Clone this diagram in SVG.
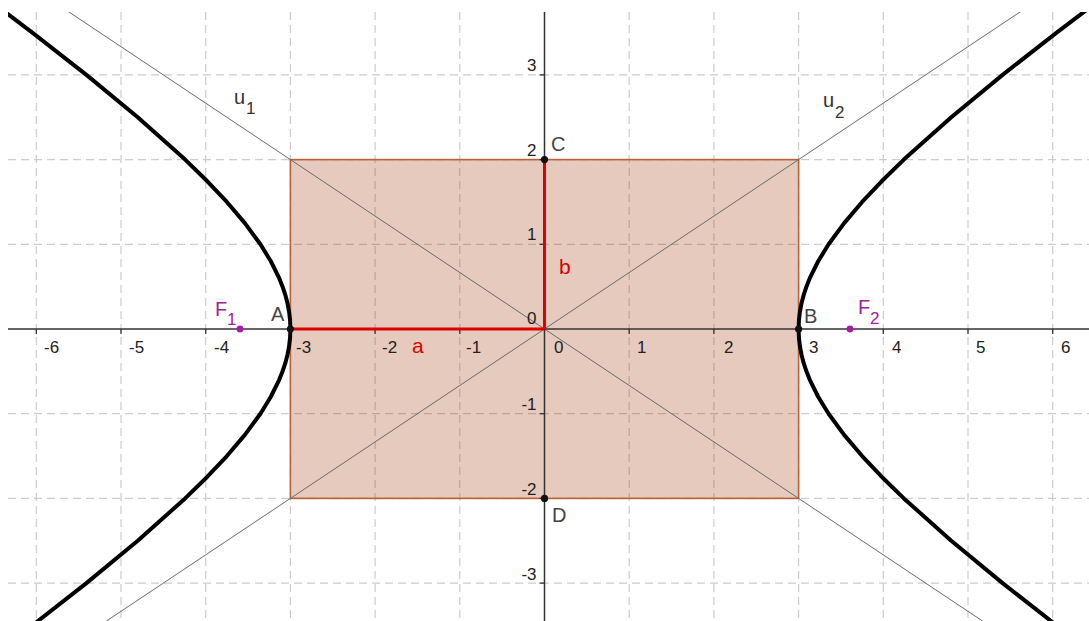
<svg xmlns="http://www.w3.org/2000/svg" width="1089" height="621" viewBox="0 0 1089 621">
<style>
.grid{stroke:#cccccc;stroke-width:1.2;stroke-dasharray:8,5;fill:none}
.axis{stroke:#333;stroke-width:1.5;fill:none}
.tick{stroke:#333;stroke-width:1.3}
.tl{font-family:"Liberation Sans",Arial,sans-serif;font-size:17px;fill:#222}
.tly{font-family:"Liberation Sans",Arial,sans-serif;font-size:17px;fill:#222;text-anchor:end}
.pl{font-family:"Liberation Sans",Arial,sans-serif;font-size:20px;fill:#444}
.fl{font-family:"Liberation Sans",Arial,sans-serif;font-size:20px;fill:#a020a0}
.fs{font-family:"Liberation Sans",Arial,sans-serif;font-size:17px;fill:#a020a0}
.ul{font-family:"Liberation Sans",Arial,sans-serif;font-size:20px;fill:#333}
.us{font-family:"Liberation Sans",Arial,sans-serif;font-size:17px;fill:#333}
.rl{font-family:"Liberation Sans",Arial,sans-serif;font-size:21px;fill:#dd0000}
.asym{stroke:#6a6a6a;stroke-width:1;fill:none}
.hyp{stroke:#000;stroke-width:4;fill:none;stroke-linejoin:round;stroke-linecap:round}
.seg{stroke:#dd0000;stroke-width:3}
.pt{fill:#111}
.fpt{fill:#a020a0}
</style>
<defs>
<clipPath id="view"><rect x="8" y="12" width="1081" height="609"/></clipPath>
</defs>
<rect x="0" y="0" width="1089" height="621" fill="#fff"/>
<g clip-path="url(#view)">
<g id="grid">
<line class="grid" x1="36.3" y1="12" x2="36.3" y2="621"/>
<line class="grid" x1="121" y1="12" x2="121" y2="621"/>
<line class="grid" x1="205.7" y1="12" x2="205.7" y2="621"/>
<line class="grid" x1="290.4" y1="12" x2="290.4" y2="621"/>
<line class="grid" x1="375.1" y1="12" x2="375.1" y2="621"/>
<line class="grid" x1="459.8" y1="12" x2="459.8" y2="621"/>
<line class="grid" x1="629.2" y1="12" x2="629.2" y2="621"/>
<line class="grid" x1="713.9" y1="12" x2="713.9" y2="621"/>
<line class="grid" x1="798.6" y1="12" x2="798.6" y2="621"/>
<line class="grid" x1="883.3" y1="12" x2="883.3" y2="621"/>
<line class="grid" x1="968" y1="12" x2="968" y2="621"/>
<line class="grid" x1="1052.7" y1="12" x2="1052.7" y2="621"/>
<line class="grid" x1="8" y1="74.9" x2="1089" y2="74.9"/>
<line class="grid" x1="8" y1="159.6" x2="1089" y2="159.6"/>
<line class="grid" x1="8" y1="244.3" x2="1089" y2="244.3"/>
<line class="grid" x1="8" y1="413.7" x2="1089" y2="413.7"/>
<line class="grid" x1="8" y1="498.4" x2="1089" y2="498.4"/>
<line class="grid" x1="8" y1="583.1" x2="1089" y2="583.1"/>
</g>
<g id="rectangle">
<rect x="290.4" y="159.6" width="508.2" height="338.8" fill="#993300" fill-opacity="0.26" stroke="#b86038" stroke-width="1.6"/>
</g>
<g id="asymptotes">
<line id="u1" class="asym" x1="-6.05" y1="-38.03" x2="1095.05" y2="696.03"/>
<line id="u2" class="asym" x1="-6.05" y1="696.03" x2="1095.05" y2="-38.03"/>
</g>
<g id="axes">
<line class="axis" x1="8" y1="329" x2="1089" y2="329"/>
<line class="axis" x1="544.5" y1="12" x2="544.5" y2="621"/>
<g id="xticks">
<line class="tick" x1="36.3" y1="329" x2="36.3" y2="334"/>
<line class="tick" x1="121" y1="329" x2="121" y2="334"/>
<line class="tick" x1="205.7" y1="329" x2="205.7" y2="334"/>
<line class="tick" x1="290.4" y1="329" x2="290.4" y2="334"/>
<line class="tick" x1="375.1" y1="329" x2="375.1" y2="334"/>
<line class="tick" x1="459.8" y1="329" x2="459.8" y2="334"/>
<line class="tick" x1="629.2" y1="329" x2="629.2" y2="334"/>
<line class="tick" x1="713.9" y1="329" x2="713.9" y2="334"/>
<line class="tick" x1="798.6" y1="329" x2="798.6" y2="334"/>
<line class="tick" x1="883.3" y1="329" x2="883.3" y2="334"/>
<line class="tick" x1="968" y1="329" x2="968" y2="334"/>
<line class="tick" x1="1052.7" y1="329" x2="1052.7" y2="334"/>
</g>
<g id="yticks">
<line class="tick" x1="539.5" y1="74.9" x2="544.5" y2="74.9"/>
<line class="tick" x1="539.5" y1="159.6" x2="544.5" y2="159.6"/>
<line class="tick" x1="539.5" y1="244.3" x2="544.5" y2="244.3"/>
<line class="tick" x1="539.5" y1="413.7" x2="544.5" y2="413.7"/>
<line class="tick" x1="539.5" y1="498.4" x2="544.5" y2="498.4"/>
<line class="tick" x1="539.5" y1="583.1" x2="544.5" y2="583.1"/>
</g>
</g>
<g id="hyperbola">
<polyline class="hyp" points="1112.68,-9.8 1056.66,32.55 1002.59,74.9 951.26,117.25 903.85,159.6 882.14,180.78 862.13,201.95 844.15,223.13 828.59,244.3 818.17,261.24 809.79,278.18 806.42,286.65 803.63,295.12 801.44,303.59 799.86,312.06 798.92,320.53 798.6,329 798.92,337.47 799.86,345.94 801.44,354.41 803.63,362.88 806.42,371.35 809.79,379.82 818.17,396.76 828.59,413.7 844.15,434.88 862.13,456.05 882.14,477.23 903.85,498.4 951.26,540.75 1002.59,583.1 1056.66,625.45 1112.68,667.8"/>
<polyline class="hyp" points="-23.68,-9.8 32.34,32.55 86.41,74.9 137.74,117.25 185.15,159.6 206.86,180.78 226.87,201.95 244.85,223.13 260.41,244.3 270.83,261.24 279.21,278.18 282.58,286.65 285.37,295.12 287.56,303.59 289.14,312.06 290.08,320.53 290.4,329 290.08,337.47 289.14,345.94 287.56,354.41 285.37,362.88 282.58,371.35 279.21,379.82 270.83,396.76 260.41,413.7 244.85,434.88 226.87,456.05 206.86,477.23 185.15,498.4 137.74,540.75 86.41,583.1 32.34,625.45 -23.68,667.8"/>
</g>
</g>
<g id="connectors">
<line id="seg-a" class="seg" x1="290.4" y1="329" x2="544.5" y2="329"/>
<line id="seg-b" class="seg" x1="544.5" y1="329" x2="544.5" y2="159.6"/>
</g>
<g id="tick-labels">
<text class="tl" x="44" y="353">-6</text>
<text class="tl" x="129" y="353">-5</text>
<text class="tl" x="214" y="353">-4</text>
<text class="tl" x="296" y="353">-3</text>
<text class="tl" x="382" y="353">-2</text>
<text class="tl" x="466" y="353">-1</text>
<text class="tl" x="554" y="353">0</text>
<text class="tl" x="637" y="353">1</text>
<text class="tl" x="724" y="353">2</text>
<text class="tl" x="809" y="353">3</text>
<text class="tl" x="892" y="353">4</text>
<text class="tl" x="976" y="353">5</text>
<text class="tl" x="1061" y="353">6</text>
<text class="tly" x="536.5" y="71">3</text>
<text class="tly" x="536.5" y="156">2</text>
<text class="tly" x="536.5" y="240">1</text>
<text class="tly" x="536.5" y="324">0</text>
<text class="tly" x="536.5" y="410">-1</text>
<text class="tly" x="536.5" y="495">-2</text>
<text class="tly" x="536.5" y="580">-3</text>
</g>
<g id="node-A"><circle class="pt" cx="290.4" cy="329" r="3.6"/><text class="pl" x="271" y="321">A</text></g>
<g id="node-B"><circle class="pt" cx="798.6" cy="329" r="3.6"/><text class="pl" x="804" y="323">B</text></g>
<g id="node-C"><circle class="pt" cx="544.5" cy="159.6" r="3.6"/><text class="pl" x="551" y="151">C</text></g>
<g id="node-D"><circle class="pt" cx="544.5" cy="498.4" r="3.6"/><text class="pl" x="552" y="522">D</text></g>
<g id="node-F1"><circle class="fpt" cx="240" cy="329" r="3.4"/><text class="fl" x="215" y="316">F</text><text class="fs" x="227" y="325">1</text></g>
<g id="node-F2"><circle class="fpt" cx="850" cy="329" r="3.4"/><text class="fl" x="858" y="314">F</text><text class="fs" x="870" y="324">2</text></g>
<g id="label-u1"><text class="ul" x="234" y="104">u</text><text class="us" x="246" y="114">1</text></g>
<g id="label-u2"><text class="ul" x="823" y="107">u</text><text class="us" x="835" y="118">2</text></g>
<g id="label-a"><text class="rl" x="412" y="353">a</text></g>
<g id="label-b"><text class="rl" x="559" y="274">b</text></g>
</svg>
